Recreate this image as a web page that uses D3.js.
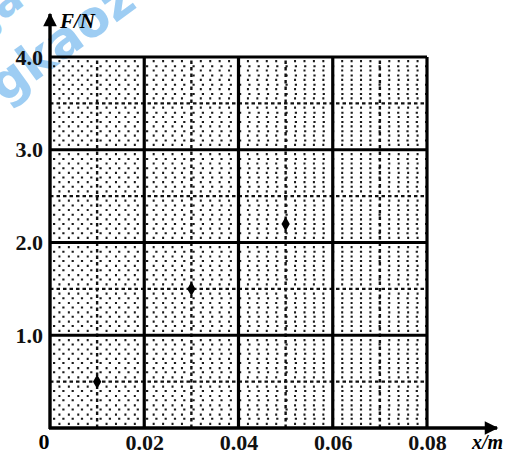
<!DOCTYPE html>
<html>
<head>
<meta charset="utf-8">
<script src="https://cdn.jsdelivr.net/npm/d3@7"></script>
<style>
  body { margin: 0; background: #fff; }
  svg { display: block; }
  .tick-label text { font-family: "Liberation Serif", serif; font-weight: bold; font-size: 22px; fill: #111; }
</style>
</head>
<body>
<svg id="chart"></svg>
<script>
// data
const xTicks = [0.02, 0.04, 0.06, 0.08];
const xTickLabels = ["0.02", "0.04", "0.06", "0.08"];
const yTicks = [1.0, 2.0, 3.0, 4.0];
const yTickLabels = ["1.0", "2.0", "3.0", "4.0"];
const pointX = [0.01, 0.03, 0.05];
const pointF = [0.5, 1.5, 2.2];

const config = {
    width: 512, height: 454,
    margin: {top: 57, right: 85, bottom: 26, left: 50}
};

const svg = d3.select('#chart')
    .attr('width', config.width)
    .attr('height', config.height);

const innerW = config.width - config.margin.left - config.margin.right;
const innerH = config.height - config.margin.top - config.margin.bottom;

const xScale = d3.scaleLinear().domain([0, 0.08]).range([config.margin.left, config.margin.left + innerW]);
const yScale = d3.scaleLinear().domain([0, 4]).range([config.margin.top + innerH, config.margin.top]);

// watermark (scanned page)
const wm = svg.append('g').attr('opacity', 0.55);
wm.append('text')
    .attr('transform', 'translate(4,104) rotate(-36)')
    .attr('font-family', 'DejaVu Sans, sans-serif')
    .attr('font-weight', 'bold')
    .attr('font-size', 50)
    .attr('fill', '#4fa6ea')
    .text('gkaoz');
wm.append('text')
    .attr('transform', 'translate(-10,30) rotate(-36)')
    .attr('font-family', 'DejaVu Sans, sans-serif')
    .attr('font-weight', 'bold')
    .attr('font-size', 44)
    .attr('fill', '#4fa6ea')
    .text('ja');

const grid = svg.append('g');

// minor dotted grid (0.002 m, 0.1 N)
const minorX = d3.range(0, 41).map(i => i * 0.002).filter((d, i) => i % 5 !== 0);
const minorY = d3.range(0, 41).map(i => i * 0.1).filter((d, i) => i % 5 !== 0);

grid.selectAll('.minor-x').data(minorX).join('line')
    .attr('x1', d => xScale(d)).attr('x2', d => xScale(d))
    .attr('y1', yScale(0)).attr('y2', yScale(4))
    .attr('stroke', '#1a1a1a').attr('stroke-width', 2)
    .attr('stroke-dasharray', '2.2,7.1').attr('stroke-dashoffset', -3);

grid.selectAll('.minor-y').data(minorY).join('line')
    .attr('y1', d => yScale(d)).attr('y2', d => yScale(d))
    .attr('x1', xScale(0)).attr('x2', xScale(0.08))
    .attr('stroke', '#1a1a1a').attr('stroke-width', 2)
    .attr('stroke-dasharray', '2.2,7.1').attr('stroke-dashoffset', -3);

// medium dashed grid (0.01 m, 0.5 N)
const midX = d3.range(1, 8, 2).map(i => i * 0.01);
const midY = d3.range(1, 8, 2).map(i => i * 0.5);

grid.selectAll('.mid-x').data(midX).join('line')
    .attr('x1', d => xScale(d)).attr('x2', d => xScale(d))
    .attr('y1', yScale(0)).attr('y2', yScale(4))
    .attr('stroke', '#111').attr('stroke-width', 2.4)
    .attr('stroke-dasharray', '3.5,3');

grid.selectAll('.mid-y').data(midY).join('line')
    .attr('y1', d => yScale(d)).attr('y2', d => yScale(d))
    .attr('x1', xScale(0)).attr('x2', xScale(0.08))
    .attr('stroke', '#111').attr('stroke-width', 2.4)
    .attr('stroke-dasharray', '3.5,3');

// major solid grid
grid.selectAll('.major-x').data(xTicks).join('line')
    .attr('x1', d => xScale(d)).attr('x2', d => xScale(d))
    .attr('y1', yScale(0)).attr('y2', yScale(4))
    .attr('stroke', '#000').attr('stroke-width', 3.2);

grid.selectAll('.major-y').data(yTicks).join('line')
    .attr('y1', d => yScale(d)).attr('y2', d => yScale(d))
    .attr('x1', xScale(0)).attr('x2', xScale(0.08))
    .attr('stroke', '#000').attr('stroke-width', 3.2);

// axes with arrows
svg.append('defs').append('marker')
    .attr('id', 'arrow')
    .attr('viewBox', '0 0 10 10')
    .attr('refX', 9).attr('refY', 5)
    .attr('markerWidth', 5).attr('markerHeight', 4)
    .attr('orient', 'auto')
    .append('path').attr('d', 'M0,0 L10,5 L0,10 z').attr('fill', '#000');

svg.append('line')
    .attr('x1', xScale(0)).attr('x2', xScale(0))
    .attr('y1', yScale(0) + 1).attr('y2', 14)
    .attr('stroke', '#000').attr('stroke-width', 3.4)
    .attr('marker-end', 'url(#arrow)');

svg.append('line')
    .attr('x1', xScale(0) - 1).attr('x2', 497)
    .attr('y1', yScale(0)).attr('y2', yScale(0))
    .attr('stroke', '#000').attr('stroke-width', 3.4)
    .attr('marker-end', 'url(#arrow)');

// tick labels via d3 axes
const xAxis = d3.axisBottom(xScale).tickValues(xTicks)
    .tickFormat((d, i) => xTickLabels[i]).tickSize(0).tickPadding(6);
const yAxis = d3.axisLeft(yScale).tickValues(yTicks)
    .tickFormat((d, i) => yTickLabels[i]).tickSize(0).tickPadding(7);

const xAxisG = svg.append('g').attr('class', 'tick-label')
    .attr('transform', `translate(0,${yScale(0)})`).call(xAxis);
xAxisG.select('.domain').remove();

const yAxisG = svg.append('g').attr('class', 'tick-label')
    .attr('transform', `translate(${xScale(0)},0)`).call(yAxis);
yAxisG.select('.domain').remove();

svg.append('text')
    .attr('x', 44).attr('y', 449)
    .attr('text-anchor', 'middle')
    .attr('font-family', 'Liberation Serif, serif').attr('font-weight', 'bold').attr('font-size', 22)
    .text('0');

svg.append('text')
    .attr('x', 60).attr('y', 28)
    .attr('font-family', 'Liberation Serif, serif').attr('font-weight', 'bold')
    .attr('font-style', 'italic').attr('font-size', 21)
    .text('F/N');

svg.append('text')
    .attr('x', 472).attr('y', 449)
    .attr('font-family', 'Liberation Serif, serif').attr('font-weight', 'bold')
    .attr('font-style', 'italic').attr('font-size', 20)
    .text('x/m');

// data points
const points = pointX.map((x, i) => ({x: x, f: pointF[i]}));
svg.selectAll('.pt').data(points).join('path')
    .attr('d', d3.symbol().type(d3.symbolDiamond).size(60))
    .attr('transform', d => `translate(${xScale(d.x)},${yScale(d.f)})`)
    .attr('fill', '#000');
</script>
</body>
</html>
